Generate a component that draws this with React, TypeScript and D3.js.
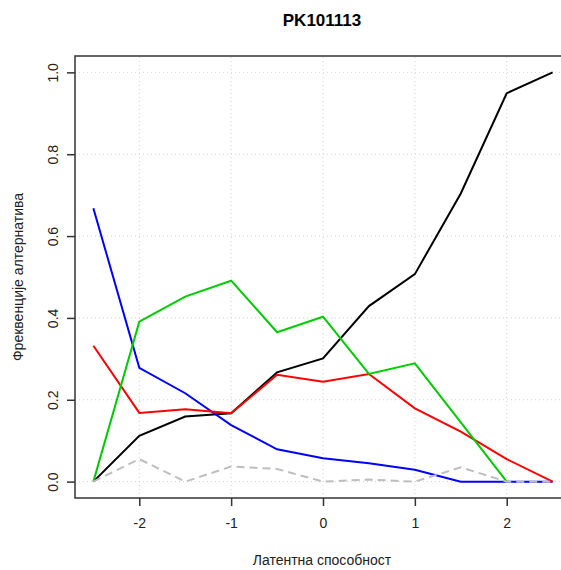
import React, { useEffect, useRef } from "react";
import * as d3 from "d3";

const width = 561;
const height = 570;
const margin = { top: 56, right: -10, bottom: 72, left: 75 };

const abilities = [-2.5, -2, -1.5, -1, -0.5, 0, 0.5, 1, 1.5, 2, 2.5];
const blackSeries = [0, 0.112, 0.159, 0.167, 0.267, 0.301, 0.429, 0.507, 0.704, 0.949, 1.0];
const redSeries = [0.332, 0.168, 0.177, 0.167, 0.261, 0.244, 0.263, 0.179, 0.122, 0.055, 0];
const greenSeries = [0, 0.391, 0.452, 0.491, 0.365, 0.403, 0.263, 0.289, 0.145, 0, null];
const blueSeries = [0.668, 0.278, 0.216, 0.138, 0.079, 0.057, 0.045, 0.029, 0, 0, 0];
const graySeries = [0, 0.055, 0, 0.037, 0.031, 0, 0.005, 0, 0.035, 0, 0];

const xTicks = [-2, -1, 0, 1, 2];
const yTicks = [0, 0.2, 0.4, 0.6, 0.8, 1.0];

const series = [
  { values: graySeries, color: "#bebebe", dash: "8,5" },
  { values: blackSeries, color: "#000000", dash: null },
  { values: redSeries, color: "#ff0000", dash: null },
  { values: greenSeries, color: "#00cd00", dash: null },
  { values: blueSeries, color: "#0000ff", dash: null },
];

export default function App() {
  const ref = useRef<SVGSVGElement | null>(null);

  useEffect(() => {
    const svg = d3.select(ref.current);
    svg.selectAll("*").remove();

    const x = d3.scaleLinear().domain([-2.7, 2.7]).range([margin.left, width - margin.right]);
    const y = d3.scaleLinear().domain([-0.04, 1.04]).range([height - margin.bottom, margin.top]);
    const font = "Liberation Sans, Arial, sans-serif";

    svg.append("rect").attr("width", width).attr("height", height).attr("fill", "#fff");

    // grid
    const grid = svg.append("g").attr("stroke", "#d3d3d3").attr("stroke-dasharray", "1,3");
    grid.selectAll(".gx").data(xTicks).enter().append("line")
      .attr("x1", d => x(d)).attr("x2", d => x(d))
      .attr("y1", y.range()[0]).attr("y2", y.range()[1]);
    grid.selectAll(".gy").data(yTicks).enter().append("line")
      .attr("y1", d => y(d)).attr("y2", d => y(d))
      .attr("x1", x.range()[0]).attr("x2", x.range()[1]);

    // lines: gray dashed drawn last so it sits over the blue at the end
    const line = d3.line<number | null>()
      .defined(d => d != null)
      .x((_, i) => x(abilities[i]))
      .y(d => y(d as number));
    const ordered = [series[1], series[4], series[2], series[3], series[0]];
    ordered.forEach(s => {
      svg.append("path")
        .datum(s.values)
        .attr("fill", "none")
        .attr("stroke", s.color)
        .attr("stroke-width", 2)
        .attr("stroke-dasharray", s.dash)
        .attr("d", line);
    });

    // box (right side runs off the picture)
    svg.append("rect")
      .attr("x", x.range()[0]).attr("y", y.range()[1])
      .attr("width", x.range()[1] - x.range()[0])
      .attr("height", y.range()[0] - y.range()[1])
      .attr("fill", "none").attr("stroke", "#333").attr("stroke-width", 1.5);

    // axes
    const xaxis = d3.axisBottom(x).tickValues(xTicks).tickSize(8).tickPadding(12)
      .tickFormat(d => d3.format("d")(d as number).replace("−", "-"));
    svg.append("g")
      .attr("transform", "translate(0," + y.range()[0] + ")")
      .call(xaxis)
      .call(g => g.select(".domain").remove())
      .call(g => g.selectAll("line").attr("stroke", "#333").attr("stroke-width", 1.5))
      .call(g => g.selectAll("text").attr("font-family", font).attr("font-size", 14).attr("fill", "#222"));

    const yaxis = d3.axisLeft(y).tickValues(yTicks).tickSize(8).tickFormat(d3.format(".1f"));
    const ya = svg.append("g")
      .attr("transform", "translate(" + x.range()[0] + ",0)")
      .call(yaxis)
      .call(g => g.select(".domain").remove())
      .call(g => g.selectAll("line").attr("stroke", "#333").attr("stroke-width", 1.5));
    ya.selectAll("text").remove();
    ya.selectAll(".tick").append("text")
      .attr("transform", "translate(-17,0)rotate(-90)")
      .attr("text-anchor", "middle")
      .attr("font-family", font).attr("font-size", 14).attr("fill", "#222")
      .text(d => d3.format(".1f")(d as number));

    // title
    svg.append("text")
      .attr("x", 322).attr("y", 26)
      .attr("text-anchor", "middle")
      .attr("font-family", font).attr("font-size", 17).attr("font-weight", "bold")
      .text("PK101113");

    svg.append("text")
      .attr("x", 322).attr("y", 565)
      .attr("text-anchor", "middle")
      .attr("font-family", font).attr("font-size", 14).attr("fill", "#222")
      .text("Латентна способност");

    svg.append("text")
      .attr("transform", "translate(23," + (y.range()[0] + y.range()[1]) / 2 + ")rotate(-90)")
      .attr("text-anchor", "middle")
      .attr("font-family", font).attr("font-size", 14).attr("fill", "#222")
      .text("Фреквенције алтернатива");
  }, []);

  return (
    <svg ref={ref} width={width} height={height}
      style={{ position: "absolute", left: 0, top: 0, display: "block" }} />
  );
}
